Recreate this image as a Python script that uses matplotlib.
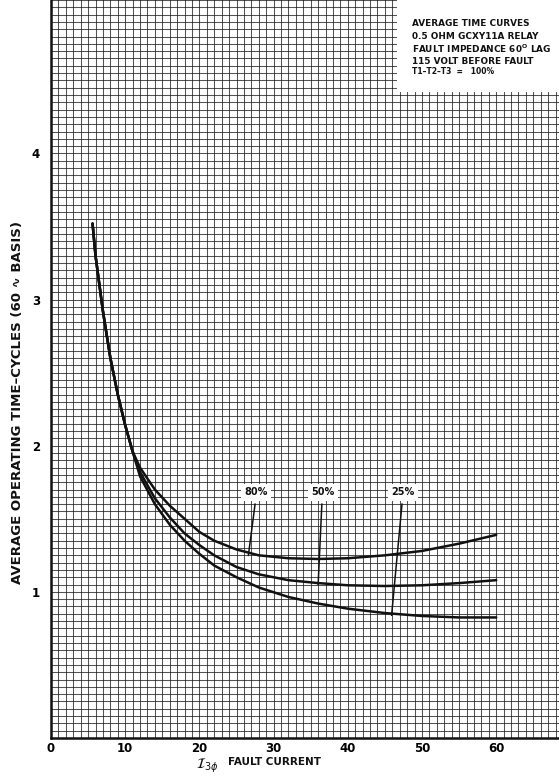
import matplotlib

matplotlib.use("Agg")
import matplotlib.pyplot as plt
from matplotlib.ticker import MultipleLocator
from matplotlib.patches import Rectangle

# Common steep branch (all three curves coincide here)
common_x = [5.6, 6.0, 7.0, 8.0, 9.0, 10.0, 11.0]
common_y = [3.52, 3.30, 2.92, 2.60, 2.35, 2.14, 1.96]

spread_x = [12, 14, 16, 18, 20, 22, 25, 28, 32, 36, 40, 45, 50, 55, 60]
curve_80 = [1.85, 1.70, 1.59, 1.50, 1.41, 1.35, 1.29, 1.25, 1.23, 1.225, 1.23, 1.25, 1.28, 1.33, 1.39]
curve_50 = [1.82, 1.64, 1.51, 1.40, 1.32, 1.25, 1.17, 1.12, 1.08, 1.06, 1.045, 1.04, 1.045, 1.06, 1.08]
curve_25 = [1.79, 1.60, 1.46, 1.35, 1.26, 1.18, 1.10, 1.03, 0.965, 0.92, 0.885, 0.855, 0.835, 0.825, 0.825]

curve_labels = ["80%", "50%", "25%"]
label_x = [27.6, 36.6, 47.4]
label_y = [1.68, 1.68, 1.68]
leader_end_x = [26.6, 36.0, 45.9]
leader_end_y = [1.25, 1.05, 0.84]

x_ticks = [0, 10, 20, 30, 40, 50, 60]
y_ticks = [1, 2, 3, 4]

info_lines = [
    "AVERAGE TIME CURVES",
    "0.5 OHM GCXY11A RELAY",
    "FAULT IMPEDANCE 60$^\\mathregular{O}$ LAG",
    "115 VOLT BEFORE FAULT",
]
info_last = "T1\u2013T2\u2013T3  =   100%"

FONT = ["DejaVu Sans"]
INK = "#111111"

fig = plt.figure(figsize=(5.59, 7.77), dpi=100)
ax = fig.add_axes([51 / 559, 39 / 777, 508 / 559, 738 / 777])
ax.set_xlim(0, 68.46)
ax.set_ylim(0, 5.05)

# graph-paper grid
ax.xaxis.set_major_locator(MultipleLocator(10))
ax.yaxis.set_major_locator(MultipleLocator(1))
ax.xaxis.set_minor_locator(MultipleLocator(1))
ax.yaxis.set_minor_locator(MultipleLocator(0.05))
ax.grid(which="both", color="#1a1a1a", linewidth=0.75, alpha=0.75)
ax.set_axisbelow(True)
ax.tick_params(which="both", length=0)
ax.set_xticks(x_ticks)
ax.set_yticks(y_ticks)
ax.set_xticklabels([str(v) for v in x_ticks], fontsize=8.5, fontweight="bold", family=FONT)
ax.set_yticklabels([str(v) for v in y_ticks], fontsize=8.5, fontweight="bold", family=FONT)
ax.tick_params(axis="x", pad=3)
ax.tick_params(axis="y", pad=8)
for side in ("top", "right"):
    ax.spines[side].set_visible(False)
for side in ("left", "bottom"):
    ax.spines[side].set_linewidth(1.8)
    ax.spines[side].set_color(INK)

# curves
for ys in (curve_80, curve_50, curve_25):
    ax.plot(common_x + spread_x, common_y + ys, color=INK, linewidth=1.8,
            solid_capstyle="round", zorder=3)

# labels with leader lines
for lab, lx, ly, ex, ey in zip(curve_labels, label_x, label_y, leader_end_x, leader_end_y):
    ax.plot([lx - 0.1, ex], [ly - 0.08, ey], color=INK, linewidth=1.1, zorder=3)
    ax.text(lx, ly, lab, ha="center", va="center", fontsize=7, fontweight="bold",
            family=FONT, color=INK, zorder=5,
            bbox=dict(boxstyle="square,pad=0.35", facecolor="white", edgecolor="none"))

# information block, top right
ax.add_patch(Rectangle((46.6, 4.42), 30, 1.0, facecolor="white", edgecolor="none", zorder=4))
for i, line in enumerate(info_lines):
    ax.text(48.6, 4.89 - i * 0.087, line, ha="left", va="center", fontsize=6.4,
            fontweight="bold", family=FONT, color=INK, zorder=5)
ax.text(48.6, 4.89 - 4 * 0.082, info_last, ha="left", va="center", fontsize=5.5,
        fontweight="bold", family=FONT, color=INK, zorder=5)

# axis titles
fig.text(18 / 559, 1 - 403 / 777, "AVERAGE OPERATING TIME\u2013CYCLES (60 \u223f BASIS)",
         rotation=90, ha="center", va="center", fontsize=9.5, fontweight="bold",
         family=FONT, color=INK)
fig.text(196 / 559, 1 - 766 / 777, r"$\mathcal{I}_{3\phi}$", ha="left", va="center",
         fontsize=10, color=INK)
fig.text(228 / 559, 1 - 762 / 777, "FAULT CURRENT", ha="left", va="center",
         fontsize=7.5, fontweight="bold", family=FONT, color=INK)

fig.savefig("out.png", dpi=100)
